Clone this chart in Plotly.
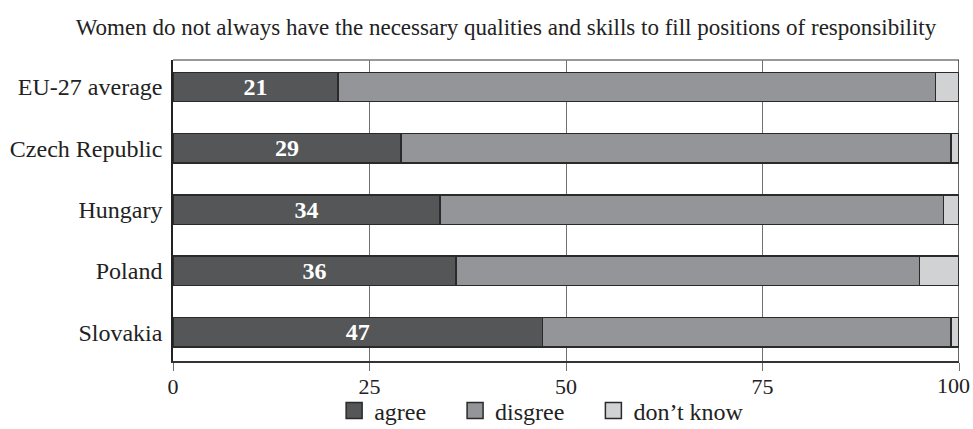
import plotly.graph_objects as go

categories = ["EU-27 average", "Czech Republic", "Hungary", "Poland", "Slovakia"]
agree = [21, 29, 34, 36, 47]
disagree = [76, 70, 64, 59, 52]
dont_know = [3, 1, 2, 5, 1]
series_names = ["agree", "disgree", "don\u2019t know"]
tick_vals = [0, 25, 50, 75, 100]
tick_labels = ["0", "25", "50", "75", "100"]
title_text = "Women do not always have the necessary qualities and skills to fill positions of responsibility"

FONT = "Liberation Serif, Times New Roman, serif"
colors = ["#555658", "#939598", "#d1d2d4"]
outline = "#2a2a2a"
pad = "\u00a0" * 4

fig = go.Figure()
for name, vals, col in zip(series_names, [agree, disagree, dont_know], colors):
    kw = {}
    if name == "agree":
        kw = dict(text=[f"<b>{v}</b>" for v in vals], textposition="inside",
                  insidetextanchor="middle", textangle=0, constraintext="none",
                  textfont=dict(family=FONT, size=24, color="white"))
    fig.add_trace(go.Bar(
        y=categories, x=vals, name=name, orientation="h", showlegend=False,
        marker=dict(color=col, line=dict(color=outline, width=1.5)),
        width=0.48, hoverinfo="skip", **kw))

# legend-only entries with larger square symbols
for i, (name, col) in enumerate(zip(series_names, colors)):
    label = name + (pad if i < len(series_names) - 1 else "")
    fig.add_trace(go.Scatter(
        x=[None], y=[None], mode="markers", name=label, showlegend=True,
        marker=dict(symbol="square", size=18, color=col,
                    line=dict(color=outline, width=1.5)),
        hoverinfo="skip"))

# last tick label drawn as annotation so it stays inside the page edge
shown_ticktext = tick_labels[:-1] + [""]

fig.update_layout(
    width=973, height=429,
    barmode="stack",
    margin=dict(l=173, r=14, t=60, b=68, autoexpand=False),
    plot_bgcolor="white", paper_bgcolor="white",
    font=dict(family=FONT, size=24, color="#222222"),
    title=dict(text=title_text, x=0.52, xanchor="center", y=0.937, yanchor="middle",
               font=dict(family=FONT, size=23, color="#222222")),
    showlegend=True,
    legend=dict(orientation="h", x=0.205, xanchor="left", xref="paper",
                y=18 / 429, yref="container", yanchor="middle",
                font=dict(family=FONT, size=24, color="#222222"),
                traceorder="normal", itemwidth=30, bgcolor="rgba(0,0,0,0)"),
    xaxis=dict(range=[0, 100], tickvals=tick_vals, ticktext=shown_ticktext, showgrid=True,
               gridcolor="#707070",
               gridwidth=1, zeroline=False, showline=True, linecolor="#333333",
               linewidth=1.5, ticks="outside", ticklen=8, tickcolor="#707070",
               automargin=False, ticklabeloverflow="allow", ticklabelstandoff=-3,
               tickfont=dict(family=FONT, size=22, color="#222222"), fixedrange=True),
    yaxis=dict(range=[4.47, -0.44], showgrid=False, zeroline=False, showline=True,
               linecolor="#222222", linewidth=1.5, ticks="", ticklen=0, automargin=False,
               ticklabelstandoff=4, tickfont=dict(family=FONT, size=24, color="#222222"),
               fixedrange=True),
    bargap=0.5,
)
fig.add_annotation(x=tick_vals[-1], xref="x", y=-0.083, yref="paper",
                   text=tick_labels[-1], showarrow=False, xanchor="center",
                   yanchor="middle", xshift=-6,
                   font=dict(family=FONT, size=22, color="#222222"))
fig.add_shape(type="line", xref="paper", yref="paper", x0=0, x1=1, y0=1, y1=1,
              line=dict(color="#777777", width=1.5))
fig.add_shape(type="line", xref="x", yref="paper", x0=100, x1=100, y0=0, y1=1,
              line=dict(color="#333333", width=1.5))

fig.write_html("out.html", config={"displayModeBar": False},
               post_script="document.body.style.margin='0';document.body.style.overflow='hidden';")
